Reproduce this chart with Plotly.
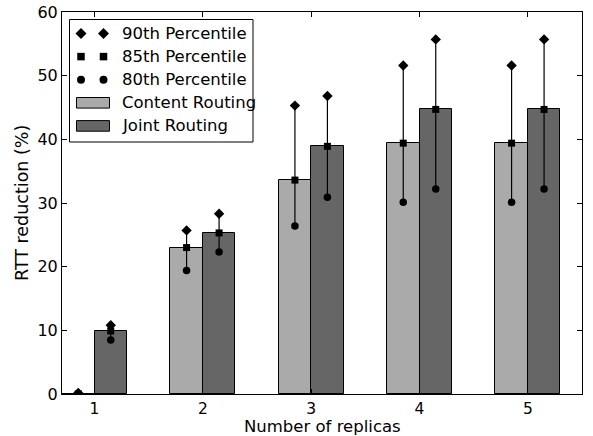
import numpy as np
import plotly.graph_objects as go

# Number of replicas
replicas = [1, 2, 3, 4, 5]
tick_labels = ["1", "2", "3", "4", "5"]

# RTT reduction (%) for content-only routing
content_p85 = [0.0, 23.0, 33.6, 39.4, 39.4]
content_p90 = [0.15, 25.7, 45.3, 51.6, 51.6]
content_p80 = [0.0, 19.4, 26.4, 30.1, 30.1]

# RTT reduction (%) for joint routing
joint_p85 = [9.9, 25.3, 38.9, 44.7, 44.7]
joint_p90 = [10.8, 28.3, 46.8, 55.7, 55.7]
joint_p80 = [8.5, 22.3, 30.9, 32.2, 32.2]

BAR_W = 0.3
FONT = "DejaVu Sans"
CONTENT_COLOR = "#aaaaaa"
JOINT_COLOR = "#666666"
DIAMOND, SQUARE, CIRCLE = 8, 7, 7.5

fig = go.Figure()

x = np.array(replicas, dtype=float)

fig.add_trace(go.Bar(
    x=x, y=content_p85, width=BAR_W, offset=-BAR_W,
    marker=dict(color=CONTENT_COLOR, line=dict(color="black", width=1)),
    showlegend=False,
))
fig.add_trace(go.Bar(
    x=x, y=joint_p85, width=BAR_W, offset=0,
    marker=dict(color=JOINT_COLOR, line=dict(color="black", width=1)),
    showlegend=False,
))


def whisker(xc, lo, hi):
    xs, ys = [], []
    for xi, a, b in zip(xc, lo, hi):
        xs += [xi, xi, None]
        ys += [a, b, None]
    return xs, ys


for offset, p80, p85, p90 in [(-BAR_W / 2, content_p80, content_p85, content_p90),
                              (BAR_W / 2, joint_p80, joint_p85, joint_p90)]:
    xc = x + offset
    wx, wy = whisker(xc, p80, p90)
    fig.add_trace(go.Scatter(x=wx, y=wy, mode="lines",
                             line=dict(color="black", width=1.2),
                             showlegend=False, hoverinfo="skip"))
    for vals, sym, size in [(p90, "diamond", DIAMOND), (p85, "square", SQUARE),
                            (p80, "circle", CIRCLE)]:
        fig.add_trace(go.Scatter(x=xc, y=vals, mode="markers",
                                 marker=dict(symbol=sym, size=size, color="black",
                                             line=dict(width=0)),
                                 showlegend=False))

# Framed legend drawn on a pixel-based overlay axis
PW, PH = 520, 382
legend_rows = [
    ("90th Percentile", "marker", "diamond", DIAMOND + 0.5),
    ("85th Percentile", "marker", "square", SQUARE + 0.5),
    ("80th Percentile", "marker", "circle", CIRCLE + 0.5),
    ("Content Routing", "patch", CONTENT_COLOR, None),
    ("Joint Routing", "patch", JOINT_COLOR, None),
]
shapes = [dict(type="rect", xref="x2", yref="y2", x0=7.5, x1=191, y0=7.5, y1=130,
               line=dict(color="black", width=1), fillcolor="rgba(0,0,0,0)",
               layer="above")]
annotations = []
mx, my, msym, msz = [], [], [], []
for i, (label, kind, spec, size) in enumerate(legend_rows):
    yc = 21.5 + i * 23.1
    if kind == "marker":
        mx += [19, 41.5]
        my += [yc, yc]
        msym += [spec, spec]
        msz += [size, size]
    else:
        shapes.append(dict(type="rect", xref="x2", yref="y2", x0=14.5, x1=47.5,
                           y0=yc - 5.3, y1=yc + 5.3, fillcolor=spec,
                           line=dict(color="black", width=1), layer="above"))
    annotations.append(dict(x=58, y=yc, xref="x2", yref="y2", text=label,
                            showarrow=False, xanchor="left", yanchor="middle",
                            font=dict(family=FONT, size=16.5, color="black")))

# Axis titles
annotations.append(dict(x=0.5, y=0, xref="paper", yref="paper", yshift=-32.5,
                        text="Number of replicas", showarrow=False,
                        xanchor="center", yanchor="middle",
                        font=dict(family=FONT, size=16.5, color="black")))
annotations.append(dict(x=0, y=0.5, xref="paper", yref="paper", xshift=-40,
                        text="RTT reduction (%)", showarrow=False, textangle=-90,
                        xanchor="center", yanchor="middle",
                        font=dict(family=FONT, size=17.5, color="black")))

fig.add_trace(go.Scatter(x=mx, y=my, mode="markers", xaxis="x2", yaxis="y2",
                         marker=dict(symbol=msym, size=msz, color="black",
                                     opacity=1, line=dict(width=0)),
                         showlegend=False, hoverinfo="skip"))

fig.update_layout(
    width=593, height=436,
    margin=dict(l=62, r=11, t=12, b=42),
    paper_bgcolor="white", plot_bgcolor="white",
    barmode="overlay", bargap=0,
    showlegend=False,
    font=dict(family=FONT, color="black"),
    shapes=shapes,
    annotations=annotations,
    xaxis=dict(
        range=[0.7, 5.5], tickvals=replicas, ticktext=tick_labels,
        ticks="inside", ticklen=5, tickcolor="black", mirror="ticks",
        showline=True, linecolor="black", linewidth=1, showgrid=False, zeroline=False,
        tickfont=dict(family=FONT, size=15.5), automargin=False,
    ),
    yaxis=dict(
        range=[0, 60], tickvals=[0, 10, 20, 30, 40, 50, 60],
        ticks="inside", ticklen=5, tickcolor="black", mirror="ticks",
        showline=True, linecolor="black", linewidth=1, showgrid=False, zeroline=False,
        tickfont=dict(family=FONT, size=16), automargin=False,
    ),
    xaxis2=dict(overlaying="x", range=[0, PW], visible=False, fixedrange=True),
    yaxis2=dict(overlaying="y", range=[PH, 0], visible=False, fixedrange=True),
)

fig.write_html("out.html")
